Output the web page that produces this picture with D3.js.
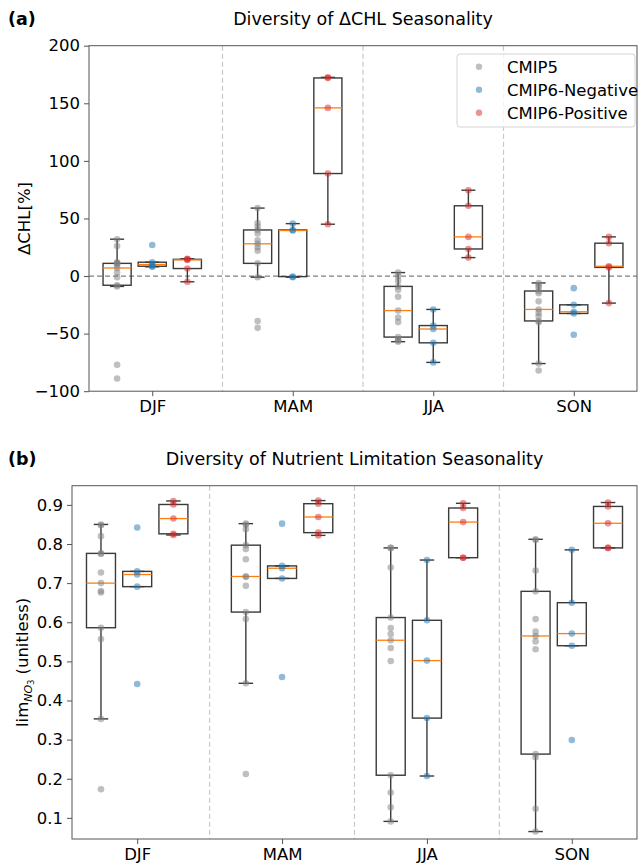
<!DOCTYPE html>
<html><head><meta charset="utf-8">
<script src="https://cdn.jsdelivr.net/npm/d3@7"></script>
<style>
body{margin:0;background:#fff;}
text{font-family:"DejaVu Sans",sans-serif;fill:#000;}
</style></head>
<body><svg id="c" width="639" height="863"></svg>
<script>
const seasons = ["DJF","MAM","JJA","SON"];
const groups = ["CMIP5","CMIP6-Negative","CMIP6-Positive"];
const groupColors = ["#808080","#1f77b4","#d62728"];

// Panel (a): ΔCHL [%]
const chlCMIP5 = [
  [32, 26, 12, 11, 11, 10, 7, 3, -1, -8, -9, -77, -89],
  [59, 46, 43, 40, 37, 31, 28, 25, 22, 11, -1, -39, -45],
  [3, 0, -4, -9, -12, -18, -30, -36, -40, -53, -55, -56, -57],
  [-6, -8, -10, -13, -15, -22, -29, -32, -35, -39, -40, -76, -82]
];
const chlNeg = [
  [27, 12, 10, 8.5, 8],
  [45.5, 40, 39.5, -0.5, -1],
  [-29, -43, -46, -58, -75],
  [-10.5, -25, -31, -32.5, -51]
];
const chlPos = [
  [15, 14.5, 14, 6.5, -5],
  [172.5, 172, 146, 89, 45],
  [74.5, 61, 34, 23.5, 16],
  [34, 28.5, 8.5, 7.5, -23.5]
];
const chlTicks = [-100, -50, 0, 50, 100, 150, 200];

// Panel (b): lim_NO3 (unitless)
const limCMIP5 = [
  [0.85, 0.848, 0.82, 0.776, 0.775, 0.727, 0.70, 0.68, 0.676, 0.586, 0.557, 0.353, 0.173],
  [0.852, 0.85, 0.838, 0.797, 0.787, 0.761, 0.717, 0.716, 0.693, 0.626, 0.608, 0.444, 0.212],
  [0.79, 0.79, 0.74, 0.612, 0.585, 0.57, 0.554, 0.534, 0.501, 0.209, 0.165, 0.127, 0.091],
  [0.812, 0.81, 0.732, 0.679, 0.608, 0.576, 0.565, 0.551, 0.531, 0.263, 0.255, 0.123, 0.065]
];
const limNeg = [
  [0.842, 0.73, 0.722, 0.691, 0.442],
  [0.852, 0.744, 0.738, 0.712, 0.46],
  [0.759, 0.605, 0.502, 0.355, 0.207],
  [0.785, 0.65, 0.571, 0.54, 0.299]
];
const limPos = [
  [0.91, 0.901, 0.865, 0.826, 0.823],
  [0.911, 0.903, 0.869, 0.829, 0.822],
  [0.904, 0.892, 0.856, 0.765, 0.765],
  [0.906, 0.896, 0.853, 0.79, 0.79]
];
const limTicks = [0.1, 0.2, 0.3, 0.4, 0.5, 0.6, 0.7, 0.8, 0.9];

const svg = d3.select("#c");
const offsets = [-0.25, 0, 0.25];
const boxW = 0.2;
const FS = "16.5px";

function stats(arr){
  const s = arr.slice().sort(d3.ascending);
  const q1 = d3.quantileSorted(s, 0.25), med = d3.quantileSorted(s, 0.5), q3 = d3.quantileSorted(s, 0.75);
  const iqr = q3 - q1;
  const lo = q1 - 1.5*iqr, hi = q3 + 1.5*iqr;
  const inside = s.filter(v => v >= lo && v <= hi);
  return {q1, med, q3, wlo: d3.min(inside), whi: d3.max(inside)};
}

function panel(opt){
  const {left, right, top, bottom, domain, ticks, fmt, data, title, tag, zeroLine} = opt;
  const x = d3.scaleLinear().domain([-0.45, 3.45]).range([left, right]);
  const y = d3.scaleLinear().domain(domain).range([bottom, top]);
  const g = svg.append("g");

  g.selectAll(".div").data([0.5,1.5,2.5]).enter().append("line")
    .attr("x1", d=>x(d)).attr("x2", d=>x(d)).attr("y1", top).attr("y2", bottom)
    .attr("stroke", "#c8c8c8").attr("stroke-width", 1.2).attr("stroke-dasharray", "5,3");
  if (zeroLine) {
    g.append("line").attr("x1", left).attr("x2", right).attr("y1", y(0)).attr("y2", y(0))
      .attr("stroke", "#808080").attr("stroke-width", 1.2).attr("stroke-dasharray", "5,3");
  }

  data.forEach((series, gi) => {
    series.forEach((vals, si) => {
      const st = stats(vals);
      const cx = si + offsets[gi];
      const bx0 = x(cx - boxW/2), bx1 = x(cx + boxW/2);
      const cap0 = x(cx - boxW/4), cap1 = x(cx + boxW/4);
      const bg = g.append("g").attr("stroke", "#3a3a3a").attr("stroke-width", 1.4).attr("fill", "none");
      bg.append("rect").attr("x", bx0).attr("y", y(st.q3)).attr("width", bx1-bx0).attr("height", y(st.q1)-y(st.q3));
      bg.append("line").attr("x1", x(cx)).attr("x2", x(cx)).attr("y1", y(st.q3)).attr("y2", y(st.whi));
      bg.append("line").attr("x1", x(cx)).attr("x2", x(cx)).attr("y1", y(st.q1)).attr("y2", y(st.wlo));
      bg.append("line").attr("x1", cap0).attr("x2", cap1).attr("y1", y(st.whi)).attr("y2", y(st.whi));
      bg.append("line").attr("x1", cap0).attr("x2", cap1).attr("y1", y(st.wlo)).attr("y2", y(st.wlo));
      g.append("line").attr("x1", bx0).attr("x2", bx1).attr("y1", y(st.med)).attr("y2", y(st.med))
        .attr("stroke", "#ff7f0e").attr("stroke-width", 1.3);
    });
  });
  data.forEach((series, gi) => {
    series.forEach((vals, si) => {
      g.selectAll(null).data(vals).enter().append("circle")
        .attr("cx", x(si + offsets[gi])).attr("cy", d => y(d)).attr("r", 3.3)
        .attr("fill", groupColors[gi]).attr("fill-opacity", 0.5);
    });
  });

  g.append("rect").attr("x", left).attr("y", top).attr("width", right-left).attr("height", bottom-top)
    .attr("fill", "none").attr("stroke", "#555").attr("stroke-width", 1);

  const ya = d3.axisLeft(y).tickValues(ticks).tickFormat(fmt).tickSize(5).tickPadding(4);
  const yg = g.append("g").attr("transform", `translate(${left},0)`).call(ya);
  yg.select(".domain").remove();
  yg.selectAll("line").attr("stroke", "#555");
  yg.selectAll("text").style("font-size", FS).style("font-family", "DejaVu Sans");
  const xa = d3.axisBottom(x).tickValues([0,1,2,3]).tickFormat(i => seasons[i]).tickSize(5).tickPadding(4);
  const xg = g.append("g").attr("transform", `translate(0,${bottom})`).call(xa);
  xg.select(".domain").remove();
  xg.selectAll("line").attr("stroke", "#555");
  xg.selectAll("text").style("font-size", FS).style("font-family", "DejaVu Sans");

  g.append("text").attr("x", (left+right)/2).attr("y", top - 21).attr("text-anchor", "middle")
    .style("font-size", "17.5px").text(title);
  g.append("text").attr("x", 8).attr("y", top - 21).style("font-size", "17.5px").style("font-weight", "bold").text(tag);
  return {x, y, g};
}

panel({left: 89, right: 637, top: 45.7, bottom: 391.2, domain: [-100, 200], ticks: chlTicks,
  fmt: d => d < 0 ? "\u2212" + Math.abs(d) : String(d),
  data: [chlCMIP5, chlNeg, chlPos], title: "Diversity of \u0394CHL Seasonality", tag: "(a)", zeroLine: true});
panel({left: 72, right: 637, top: 485.7, bottom: 839, domain: [0.046, 0.949], ticks: limTicks,
  fmt: d3.format(".1f"),
  data: [limCMIP5, limNeg, limPos], title: "Diversity of Nutrient Limitation Seasonality", tag: "(b)", zeroLine: false});

svg.append("text").attr("transform", `translate(30,${(45.7+391.2)/2}) rotate(-90)`).attr("text-anchor", "middle")
  .style("font-size", FS).text("\u0394CHL[%]");
const yl = svg.append("text").attr("transform", `translate(28,${(485.7+839)/2}) rotate(-90)`).attr("text-anchor", "middle")
  .style("font-size", FS);
yl.append("tspan").text("lim");
yl.append("tspan").attr("dy", 4).style("font-size", "11px").style("font-style", "italic").text("NO");
yl.append("tspan").attr("dy", 2).style("font-size", "8px").text("3");
yl.append("tspan").attr("dy", -6).text(" (unitless)");

const lg = svg.append("g").attr("transform", "translate(457,54)");
lg.append("rect").attr("width", 178).attr("height", 73).attr("rx", 3).attr("fill", "#fff").attr("fill-opacity", 0.8)
  .attr("stroke", "#d5d5d5").attr("stroke-width", 1);
groups.forEach((gname, i) => {
  lg.append("circle").attr("cx", 22).attr("cy", 12.7 + i*23).attr("r", 3.2).attr("fill", groupColors[i]).attr("fill-opacity", 0.5);
  lg.append("text").attr("x", 50).attr("y", 12.7 + i*23 + 5.8).style("font-size", FS).text(gname);
});
</script></body></html>
